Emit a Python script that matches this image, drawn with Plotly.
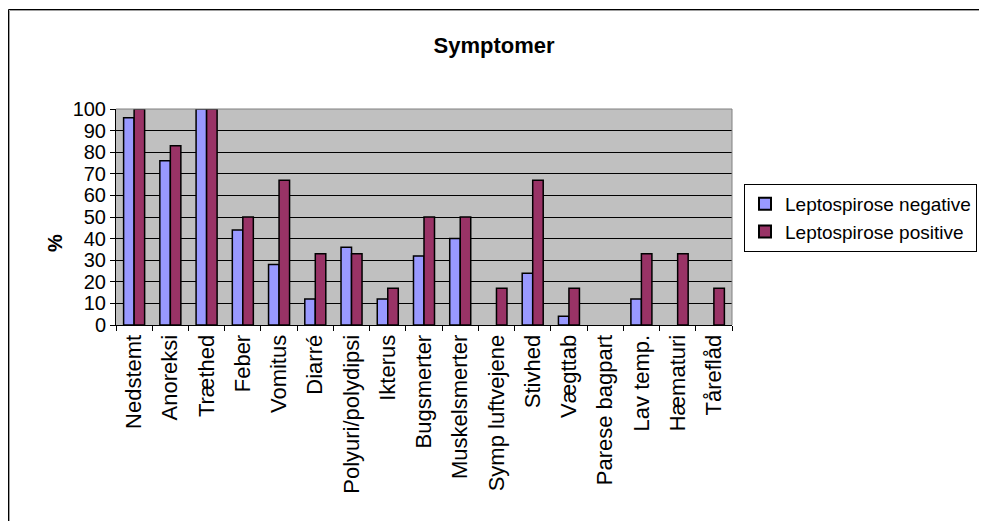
import plotly.graph_objects as go

categories = ["Nedstemt", "Anoreksi", "Træthed", "Feber", "Vomitus", "Diarré",
              "Polyuri/polydipsi", "Ikterus", "Bugsmerter", "Muskelsmerter",
              "Symp luftvejene", "Stivhed", "Vægttab", "Parese bagpart",
              "Lav temp.", "Hæmaturi", "Tåreflåd"]
negative = [96, 76, 100, 44, 28, 12, 36, 12, 32, 40, 0, 24, 4, 0, 12, 0, 0]
positive = [100, 83, 100, 50, 67, 33, 33, 17, 50, 50, 17, 67, 17, 0, 33, 33, 17]
y_ticks = list(range(0, 101, 10))

OFF = 8  # page body margin
W, H = 987 - OFF, 521 - OFF
L, R, T, B = 116 - OFF, 732 - OFF, 109 - OFF, 325 - OFF

def px(x):
    return (x - OFF - L) / (R - L)

def py(y):
    return (B - (y - OFF)) / (B - T)

def outline(vals):
    return [1.5 if v > 0 else 0 for v in vals]

fig = go.Figure()
fig.add_trace(go.Bar(x=categories, y=negative, name="Leptospirose negative",
                     marker=dict(color="#9999FF", line=dict(color="black", width=outline(negative)))))
fig.add_trace(go.Bar(x=categories, y=positive, name="Leptospirose positive",
                     marker=dict(color="#993366", line=dict(color="black", width=outline(positive)))))

font = "Liberation Sans, Arial, sans-serif"
fig.update_layout(
    width=W, height=H,
    margin=dict(l=L, r=W - R, t=T, b=H - B, autoexpand=False),
    paper_bgcolor="white", plot_bgcolor="#C0C0C0",
    barmode="group", bargap=0.42, bargroupgap=0,
    font=dict(family=font, size=20, color="black"),
    title=dict(text="<b>Symptomer</b>", x=px(494), xref="paper", xanchor="center",
               y=1 - (45 - OFF) / H, yanchor="middle", font=dict(size=22)),
    showlegend=True,
    legend=dict(x=px(744), y=py(184), xanchor="left", yanchor="top",
                bordercolor="black", borderwidth=1, bgcolor="white",
                font=dict(size=19), tracegroupgap=0, itemsizing="constant"),
    xaxis=dict(type="category", tickangle=-90, showgrid=False,
               showline=True, linecolor="black", linewidth=1,
               ticks="outside", ticklen=5, tickcolor="black", tickson="boundaries",
               mirror=False, tickfont=dict(size=22)),
    yaxis=dict(range=[0, 100], tickvals=y_ticks, showgrid=True, gridcolor="black",
               gridwidth=1, showline=True, linecolor="black", linewidth=1,
               ticks="outside", ticklen=5, tickcolor="black", zeroline=False,
               tickfont=dict(size=20)),
    annotations=[dict(text="<b>%</b>", x=px(42), y=py(243), xref="paper", yref="paper",
                      textangle=-90, showarrow=False, font=dict(size=20))],
    shapes=[
        dict(type="line", xref="paper", yref="paper", x0=0, x1=1, y0=1, y1=1,
             line=dict(color="#808080", width=1)),
        dict(type="line", xref="paper", yref="paper", x0=1, x1=1, y0=0, y1=1,
             line=dict(color="#808080", width=1)),
        dict(type="line", xref="paper", yref="paper", x0=px(8.5), x1=px(1000), y0=py(9.5), y1=py(9.5),
             line=dict(color="black", width=1)),
        dict(type="line", xref="paper", yref="paper", x0=px(8.5), x1=px(8.5), y0=py(9.5), y1=py(540),
             line=dict(color="black", width=1)),
        dict(type="line", xref="paper", yref="paper", x0=px(9.5), x1=px(1000), y0=py(10.5), y1=py(10.5),
             line=dict(color="#A0A0A0", width=1)),
        dict(type="line", xref="paper", yref="paper", x0=px(9.5), x1=px(9.5), y0=py(10.5), y1=py(540),
             line=dict(color="#A0A0A0", width=1)),
    ],
)

fig.write_html("out.html")
